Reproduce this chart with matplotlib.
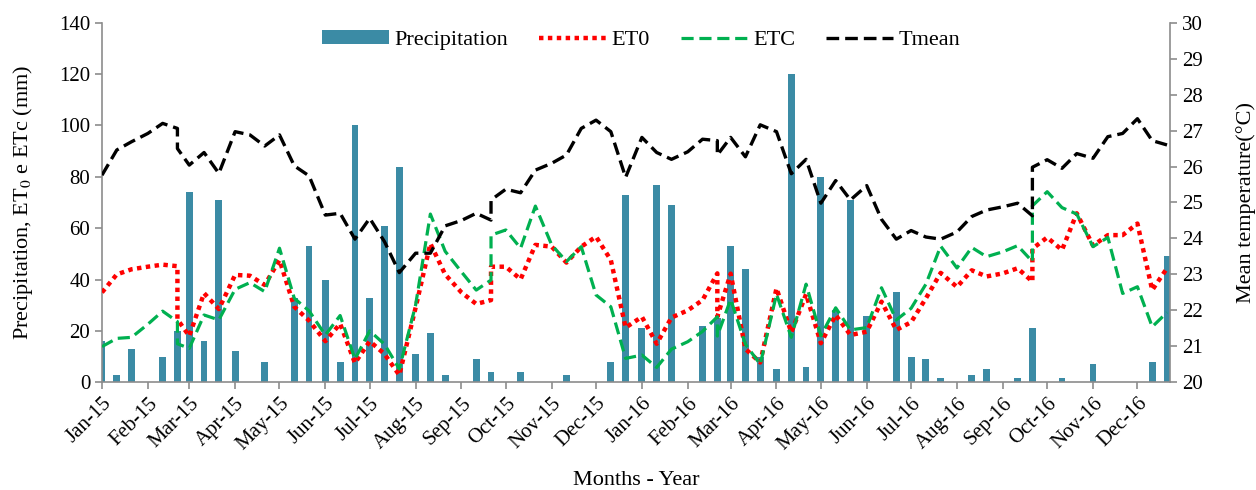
import pandas as pd
import matplotlib.pyplot as plt
import matplotlib.dates as mdates

plt.rcParams['font.family'] = ['Liberation Serif', 'DejaVu Serif']
plt.rcParams['mathtext.fontset'] = 'stix'

# decêndios: dias 1, 11 e 21 de cada mês
dekadas = [pd.Timestamp(ano, mes, dia) for ano in (2015, 2016)
           for mes in range(1, 13) for dia in (1, 11, 21)]

# datas em que as séries recomeçam (dois valores no mesmo dia)
reinicios = [pd.Timestamp(2015, 2, 21), pd.Timestamp(2015, 9, 21),
             pd.Timestamp(2016, 2, 21), pd.Timestamp(2016, 9, 21)]

datas_linhas = []
for d in dekadas:
    datas_linhas.append(d)
    if d in reinicios:
        datas_linhas.append(d)

# precipitação (mm) por decêndio
precipitacao = [16, 3, 13, 0, 10, 20, 74, 16, 71, 12, 0, 8,
                0, 33, 53, 40, 8, 100, 33, 61, 84, 11, 19, 3,
                0, 9, 4, 0, 4, 0, 0, 3, 0, 0, 8, 73,
                21, 77, 69, 0, 22, 25, 53, 44, 10, 5, 120, 6,
                80, 28, 71, 26, 0, 35, 10, 9, 1.5, 0, 3, 5,
                0, 1.5, 21, 0, 1.5, 0, 7, 0, 0, 0, 8, 49]

# ET0 (mm)
et0 = [35, 42, 44, 45, 45.8, 45.2, 24.5, 18, 34.7, 28.5, 41.8, 41.5, 37.9,
       47.6, 29.4, 24, 16, 22.8, 7.5, 16, 11, 2.8, 29, 54, 42,
       35, 30.5, 32, 45, 45, 40.1, 53.5, 52.8, 46.6, 52.8, 56.7, 47.6, 21.3,
       25.5, 15, 25.2, 28, 32, 42.4, 25.5, 42.3, 13, 7.7, 36.6, 19.4, 34.3,
       15.2, 26.2, 18.4, 19.7, 31.4, 20.4, 23.4, 32.7, 42.6, 37.1, 43.6, 41.2,
       42.4, 44.4, 39.2, 52, 56.4, 51.5, 65.8, 53.2, 57.3, 57.3, 61.8, 35.9, 44.4]

# ETc (mm)
etc = [13.9, 17.1, 17.5, 22.6, 27.7, 23.6, 15, 13.2, 26.2, 24.3, 36.2, 38.8, 35.3,
       52.2, 32.7, 27.8, 18.4, 26, 9, 20, 14.8, 5.2, 30, 65.5, 51,
       43, 35.9, 39.8, 57.3, 59.3, 52.2, 68.6, 53.5, 47, 52.8, 34, 29.4, 9.3,
       10.6, 5.8, 12.9, 15.8, 19.8, 25.5, 18, 32.3, 14.8, 7, 34.3, 17.5, 38.2,
       18.1, 29, 20.4, 21.3, 36.8, 24.3, 28.8, 38.2, 53, 44.5, 52.5, 48.9,
       50.8, 53.2, 47, 68.7, 74.2, 68, 65.5, 52.8, 56.4, 34.6, 37.2, 21.6, 27.2]

# temperatura média (°C)
tmedia = [25.76, 26.46, 26.69, 26.92, 27.20, 27.06, 26.5, 26.04, 26.39, 25.81,
          26.97, 26.88, 26.57, 26.88, 26.02, 25.74, 24.65, 24.70, 23.98,
          24.56, 23.91, 23.05, 23.59, 23.59, 24.35, 24.5, 24.70, 24.51, 25.07,
          25.37, 25.27, 25.90, 26.09, 26.32, 27.06, 27.29, 26.97, 25.70,
          26.81, 26.39, 26.20, 26.41, 26.76, 26.72, 26.32, 26.81, 26.27, 27.16,
          26.97, 25.80, 26.2, 24.98, 25.61, 25.07, 25.47, 24.53, 23.98,
          24.22, 24.04, 23.98, 24.18, 24.61, 24.79, 24.88, 24.98, 24.63, 25.98,
          26.19, 25.95, 26.36, 26.23, 26.83, 26.92, 27.33, 26.72, 26.60]

cinza = '#8c8c8c'

fig = plt.figure(figsize=(12.56, 4.9), dpi=100)
ax = fig.add_axes([0.0812, 0.2198, 0.8503, 0.7339])

barras = ax.bar(dekadas, precipitacao, width=4.6, color='#3b8ba5',
                label='Precipitation', zorder=2)
l_et0, = ax.plot(datas_linhas, et0, color='#ff0000', linewidth=3.2,
                 linestyle=(0, (1, 1)), dash_capstyle='butt', label='ET0', zorder=3)
l_etc, = ax.plot(datas_linhas, etc, color='#00b050', linewidth=2.3,
                 linestyle=(0, (3.8, 1.8)), label='ETC', zorder=4)

ax.set_ylim(0, 140)
ax.set_yticks(range(0, 141, 20))
ax.set_xlim(pd.Timestamp(2015, 1, 1), pd.Timestamp(2016, 12, 23))
ax.xaxis.set_major_locator(mdates.MonthLocator())
ax.xaxis.set_major_formatter(mdates.DateFormatter('%b-%y'))

ax2 = ax.twinx()
l_t, = ax2.plot(datas_linhas, tmedia, color='black', linewidth=2.4,
                linestyle=(0, (3.8, 1.8)), label='Tmean')
ax2.set_ylim(20, 30)
ax2.set_yticks(range(20, 31))

for a in (ax, ax2):
    a.spines['top'].set_visible(False)
    for s in a.spines.values():
        s.set_color(cinza)
        s.set_linewidth(1.2)
    a.tick_params(direction='out', length=5, width=1.2, color=cinza,
                  labelsize=15, labelcolor='black')
ax2.spines['left'].set_visible(False)
ax2.spines['bottom'].set_visible(False)
ax.spines['right'].set_visible(False)

plt.setp(ax.get_xticklabels(), rotation=45, ha='right', rotation_mode='anchor')

ax.set_xlabel('Months - Year', fontsize=16, labelpad=12)
ax.set_ylabel('Precipitation, ET$_0$ e ETc (mm)', fontsize=16, labelpad=17)
ax2.set_ylabel('Mean temperature(°C)', fontsize=16, labelpad=24)

ax.legend([barras, l_et0, l_etc, l_t], ['Precipitation', 'ET0', 'ETC', 'Tmean'],
          loc='upper center', bbox_to_anchor=(0.505, 1.01), ncol=4, frameon=False,
          fontsize=16, handlelength=3.0, handleheight=0.6, columnspacing=1.4,
          handletextpad=0.25, borderaxespad=0.1)

fig.savefig('out.png', dpi=100)
